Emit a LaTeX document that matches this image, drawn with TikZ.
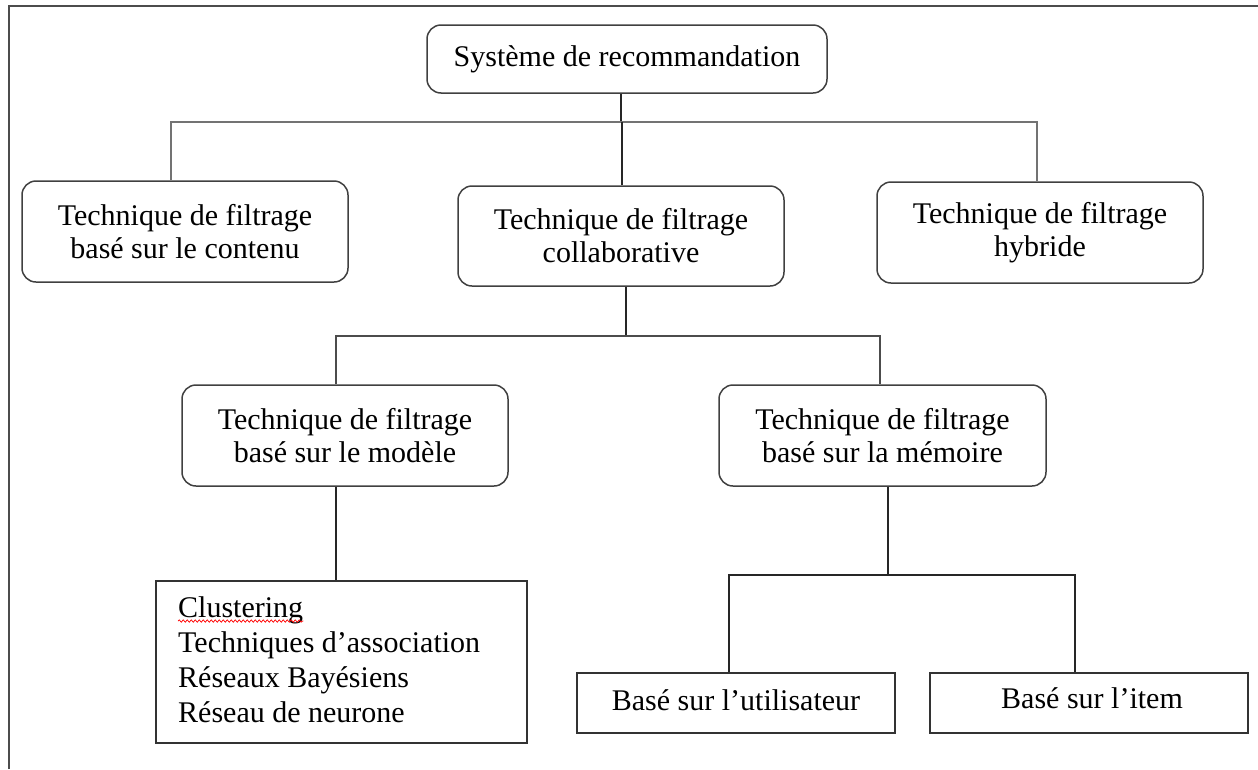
\documentclass[tikz,border=0pt]{standalone}
\usepackage{fontspec}
\setmainfont{Liberation Serif}
\usetikzlibrary{decorations.pathmorphing}
\begin{document}
\begin{tikzpicture}[x=1pt,y=-1pt,
  every node/.style={font=\fontsize{30}{33}\selectfont, text=black},
  rbox/.style={draw=black!75, line width=1.5pt, rounded corners=14pt, align=center, inner sep=0pt},
  sbox/.style={draw=black!80, line width=1.5pt, inner sep=0pt},
  bus/.style={draw=black!55, line width=2.2pt},
  conn/.style={draw=black!85, line width=1.4pt},
  frame/.style={draw=black!70, line width=2.2pt}]
\useasboundingbox (0,0) rectangle (1258,769);
\draw[frame] (9,769) -- (9,6) -- (1258,6);

\node[rbox, minimum width=400pt, minimum height=68pt] (top) at (627,59) {Système de recommandation};
\node[rbox, minimum width=326pt, minimum height=101pt] (left) at (185,231.5) {Technique de filtrage\\basé sur le contenu};
\node[rbox, minimum width=326pt, minimum height=100pt] (mid) at (621,236) {Technique de filtrage\\collaborative};
\node[rbox, minimum width=326pt, minimum height=101pt] (right) at (1040,232.5) {Technique de filtrage\\hybride};
\node[rbox, minimum width=326pt, minimum height=101pt] (model) at (345,435.5) {Technique de filtrage\\basé sur le modèle};
\node[rbox, minimum width=327pt, minimum height=101pt] (memo) at (882.5,435.5) {Technique de filtrage\\basé sur la mémoire};

\node[sbox, minimum width=371pt, minimum height=162pt] (list) at (341.5,662) {};
\node[anchor=base west, inner sep=0pt] (l1) at (178,617) {Clustering};
\node[anchor=base west, inner sep=0pt] (l2) at (178,652) {Techniques d’association};
\node[anchor=base west, inner sep=0pt] (l3) at (178,687) {Réseaux Bayésiens};
\node[anchor=base west, inner sep=0pt] (l4) at (178,722) {Réseau de neurone};
\draw[red, line width=0.7pt, decorate, decoration={snake, amplitude=1.2pt, segment length=4pt}] ([yshift=-4pt]l1.base west) -- ([yshift=-4pt]l1.base east);

\node[sbox, minimum width=318pt, minimum height=60pt] (util) at (736,703) {};
\node[anchor=base, inner sep=0pt] (utilt) at (736,710) {Basé sur l’utilisateur};
\node[sbox, minimum width=318pt, minimum height=60pt] (item) at (1089,703) {};
\node[anchor=base, inner sep=0pt] (itemt) at (1092,708) {Basé sur l’item};

% level 1
\coordinate (b1) at (0,122);
\draw[conn] ([xshift=-6pt]top.south) -- ([xshift=-6pt]top.south |- b1);
\draw[bus] ([xshift=-14pt]left.north) |- ([xshift=-3pt]right.north |- b1) -- ([xshift=-3pt]right.north);
\draw[conn] ([xshift=1pt]mid.north) -- ([xshift=1pt]mid.north |- b1);

% level 2
\coordinate (b2) at (0,336);
\draw[conn] ([xshift=5pt]mid.south) -- ([xshift=5pt]mid.south |- b2);
\draw[bus, draw=black!70, line width=1.8pt] ([xshift=-9pt]model.north) |- ([xshift=-2.5pt]memo.north |- b2) -- ([xshift=-2.5pt]memo.north);

% level 3
\draw[conn] ([xshift=-9pt]model.south) -- ([xshift=-9pt]model.south |- list.north);
\coordinate (b3) at (0,575);
\draw[conn] ([xshift=5.5pt]memo.south) -- ([xshift=5.5pt]memo.south |- b3);
\draw[conn] ([xshift=-7pt]util.north) |- ([xshift=-14pt]item.north |- b3) -- ([xshift=-14pt]item.north);
\end{tikzpicture}
\end{document}
